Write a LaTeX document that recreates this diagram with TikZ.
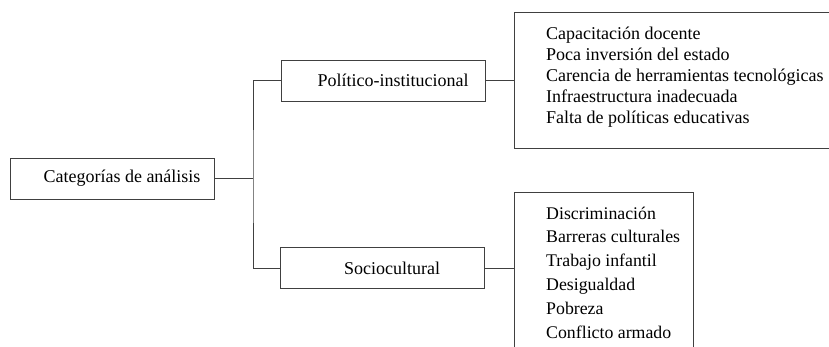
\documentclass[tikz,border=0pt]{standalone}
\usepackage{fontspec}
\setmainfont{Liberation Serif}
\usetikzlibrary{positioning}
\begin{document}
\begin{tikzpicture}[x=1pt,y=-1pt,
    line/.style={draw=black!75,line width=0.8pt},
    catbox/.style={line,minimum width=204pt,minimum height=41pt,inner sep=0pt,
      font=\fontsize{18}{21}\selectfont},
    framebox/.style={line,anchor=north west,inner sep=0pt},
    itemlist/.style={anchor=north west,align=left,inner sep=0pt}]
  \useasboundingbox (0,0) rectangle (829,346);

  % categorias
  \node[catbox] (root) at (112,178.5) {\hspace*{20pt}Categorías de análisis};
  \node[catbox] (pol) at (383,80.5) {\hspace*{20pt}Político-institucional};
  \node[catbox] (soc) at (382,268) {\hspace*{20pt}Sociocultural};

  % listas
  \node[framebox,minimum width=340pt,minimum height=136pt] (polframe) at (514,12) {};
  \node[itemlist,below right=14.3pt and 32pt of polframe.north west,
    font=\fontsize{18}{21.1}\selectfont] (politems)
    {Capacitación docente\\ Poca inversión del estado\\
     Carencia de herramientas tecnológicas\\ Infraestructura inadecuada\\
     Falta de políticas educativas};

  \node[framebox,minimum width=179pt,minimum height=170pt] (socframe) at (514,192) {};
  \node[itemlist,below right=14.5pt and 32pt of socframe.north west,
    font=\fontsize{17.8}{23.8}\selectfont] (socitems)
    {Discriminación\\ Barreras culturales\\ Trabajo infantil\\
     Desigualdad\\ Pobreza\\ Conflicto armado};

  % conectores
  \coordinate (fork) at (253,178.5);
  \draw[line] (root.east) -- (fork);
  \draw[line] (pol.west) -| (fork) |- (soc.west);
  \draw[line] (pol.east) -- (pol.east -| polframe.west);
  \draw[line] (soc.east) -- (soc.east -| socframe.west);
\end{tikzpicture}
\end{document}
